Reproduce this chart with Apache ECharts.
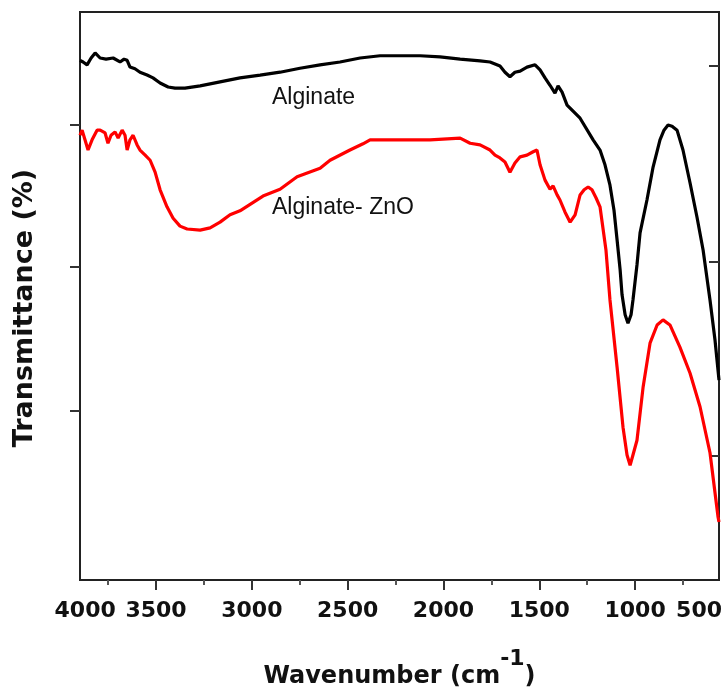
<!DOCTYPE html>
<html>
<head>
<meta charset="utf-8">
<script src="https://cdn.jsdelivr.net/npm/echarts@6/dist/echarts.min.js"></script>
<style>
  html, body { margin: 0; padding: 0; background: #fff; }
  #chart { width: 725px; height: 692px; }
</style>
</head>
<body>
<div id="chart"></div>
<script>
// wavenumber (cm-1) and transmittance (arbitrary units, 0-100)
const alginate = [
  [3897, 91.5], [3881, 91.2], [3860, 90.7], [3839, 91.9], [3818, 92.8], [3792, 91.9],
  [3761, 91.7], [3724, 91.9], [3688, 91.2], [3667, 91.7], [3651, 91.5], [3636, 90.3],
  [3610, 90.0], [3584, 89.4], [3547, 88.9], [3516, 88.4], [3479, 87.5], [3437, 86.8],
  [3401, 86.6], [3349, 86.6], [3270, 87.0], [3166, 87.7], [3062, 88.4], [2957, 88.9],
  [2853, 89.4], [2749, 90.1], [2644, 90.7], [2540, 91.2], [2435, 91.9], [2331, 92.3],
  [2122, 92.3], [2018, 92.1], [1913, 91.7], [1809, 91.4], [1757, 91.2], [1705, 90.5],
  [1679, 89.4], [1653, 88.6], [1627, 89.4], [1600, 89.6], [1564, 90.3], [1522, 90.7],
  [1496, 89.8], [1470, 88.4], [1444, 87.1], [1418, 85.7], [1402, 87.0], [1381, 85.9],
  [1355, 83.6], [1287, 81.3], [1219, 77.5], [1183, 75.7], [1157, 73.1], [1131, 69.5],
  [1110, 65.1], [1094, 59.9], [1078, 54.6], [1068, 50.2], [1052, 46.7], [1037, 45.2],
  [1021, 46.7], [1011, 49.3], [990, 55.5], [974, 61.1], [938, 66.9], [906, 72.7],
  [870, 77.5], [849, 79.2], [828, 80.1], [807, 79.9], [781, 79.2], [750, 75.7],
  [713, 69.9], [677, 63.9], [645, 58.1], [609, 49.3], [583, 42.3], [562, 35.2]
];

const alginateZnO = [
  [3897, 78.3], [3886, 79.2], [3871, 77.5], [3855, 75.7], [3834, 77.5], [3808, 79.2],
  [3792, 79.2], [3766, 78.7], [3751, 76.9], [3735, 78.3], [3714, 78.9], [3698, 77.8],
  [3677, 79.2], [3662, 78.3], [3651, 75.7], [3636, 77.5], [3620, 78.3], [3599, 76.6],
  [3584, 75.7], [3557, 74.8], [3531, 73.9], [3505, 71.8], [3479, 68.7], [3443, 65.7],
  [3411, 63.7], [3375, 62.3], [3338, 61.8], [3270, 61.6], [3218, 62.0], [3166, 63.0],
  [3114, 64.3], [3062, 65.0], [2942, 67.6], [2853, 68.8], [2764, 71.0], [2644, 72.5],
  [2592, 73.9], [2488, 75.7], [2420, 76.8], [2383, 77.5], [2070, 77.5], [1913, 77.8],
  [1861, 76.9], [1809, 76.6], [1757, 75.7], [1731, 74.8], [1705, 74.3], [1679, 73.6],
  [1653, 71.8], [1627, 73.4], [1600, 74.5], [1564, 74.8], [1532, 75.4], [1512, 75.7],
  [1496, 73.1], [1470, 70.4], [1444, 68.8], [1428, 69.4], [1407, 67.8], [1392, 66.9],
  [1366, 64.8], [1339, 63.0], [1313, 64.3], [1287, 67.8], [1266, 68.7], [1245, 69.2],
  [1225, 68.7], [1204, 67.3], [1183, 65.7], [1152, 58.1], [1131, 49.3], [1094, 37.5],
  [1063, 26.9], [1042, 22.0], [1026, 20.2], [1011, 22.0], [990, 24.6], [958, 34.0],
  [922, 41.7], [885, 44.9], [854, 45.8], [818, 44.9], [766, 41.0], [713, 36.4],
  [661, 30.5], [609, 22.4], [567, 11.1], [562, 10.2]
];

// axis ticks and labels
const xMajorTicks = [3500, 3000, 2500, 2000, 1500, 1000];
const xMinorTicks = [3750, 3250, 2750, 2250, 1750, 1250, 750];
const xTickLabels = ['4000', '3500', '3000', '2500', '2000', '1500', '1000', '500'];
const xTickLabelAt = [3870, 3500, 3000, 2500, 2000, 1500, 1000, 666];
const yLeftTicks = [29.8, 55.1, 80.1];
const yRightTicks = [21.8, 56.1, 90.6];

// annotation anchors [wavenumber, transmittance]
const alginateNote = [2895, 84.9];
const znoNote = [2895, 65.6];

const boldFont = 'DejaVu Sans';
const chart = echarts.init(document.getElementById('chart'));

const noteLabel = {
  show: true,
  position: 'right',
  distance: 0,
  fontFamily: 'Liberation Sans',
  fontSize: 23,
  color: '#111'
};

chart.setOption({
  animation: false,
  grid: {
    left: 80, right: 6, top: 12, bottom: 112,
    outerBoundsMode: 'none',
    show: true, borderColor: '#222', borderWidth: 2
  },
  xAxis: [
    {
      type: 'value', inverse: true, min: 562, max: 3897,
      position: 'bottom',
      axisLine: { lineStyle: { color: '#222', width: 2 } },
      axisTick: { customValues: xMajorTicks, length: 10, lineStyle: { color: '#333', width: 2 } },
      axisLabel: {
        customValues: xTickLabelAt,
        formatter: v => xTickLabels[xTickLabelAt.indexOf(v)],
        margin: 20,
        fontFamily: boldFont, fontWeight: 'bold', fontSize: 22, color: '#111'
      },
      splitLine: { show: false },
      name: '{m|Wavenumber (cm}{s|-1}{m|)}',
      nameLocation: 'middle',
      nameGap: 68,
      nameTextStyle: {
        rich: {
          m: { fontFamily: boldFont, fontWeight: 'bold', fontSize: 24, color: '#111', lineHeight: 58 },
          s: { fontFamily: boldFont, fontWeight: 'bold', fontSize: 22, color: '#111', lineHeight: 22, verticalAlign: 'top' }
        }
      }
    },
    {
      type: 'value', inverse: true, min: 562, max: 3897,
      position: 'bottom',
      axisLine: { show: false },
      axisTick: { customValues: xMinorTicks, length: 5, lineStyle: { color: '#555', width: 2 } },
      axisLabel: { show: false },
      splitLine: { show: false }
    }
  ],
  yAxis: [
    {
      type: 'value', min: 0, max: 100, position: 'left',
      axisLine: { show: true, lineStyle: { color: '#222', width: 2 } },
      axisTick: { show: true, customValues: yLeftTicks, length: 10, lineStyle: { color: '#333', width: 2 } },
      axisLabel: { show: false },
      splitLine: { show: false },
      name: 'Transmittance (%)',
      nameLocation: 'middle',
      nameGap: 42,
      nameTextStyle: {
        fontFamily: boldFont, fontWeight: 'bold', fontSize: 27, color: '#111',
        padding: [0, 24, 0, 0]
      }
    },
    {
      type: 'value', min: 0, max: 100, position: 'right',
      axisLine: { show: true, lineStyle: { color: '#222', width: 2 } },
      axisTick: { show: true, inside: true, customValues: yRightTicks, length: 10, lineStyle: { color: '#333', width: 2 } },
      axisLabel: { show: false },
      splitLine: { show: false }
    }
  ],
  series: [
    {
      name: 'Alginate',
      type: 'line',
      data: alginate,
      showSymbol: false,
      lineStyle: { color: '#000', width: 3.2 },
      markPoint: {
        symbol: 'circle', symbolSize: 0,
        itemStyle: { color: 'transparent' },
        label: Object.assign({ formatter: 'Alginate' }, noteLabel),
        data: [{ coord: alginateNote }]
      }
    },
    {
      name: 'Alginate- ZnO',
      type: 'line',
      data: alginateZnO,
      showSymbol: false,
      lineStyle: { color: '#ff0000', width: 3.2 },
      markPoint: {
        symbol: 'circle', symbolSize: 0,
        itemStyle: { color: 'transparent' },
        label: Object.assign({ formatter: 'Alginate- ZnO' }, noteLabel),
        data: [{ coord: znoNote }]
      }
    }
  ]
});
</script>
</body>
</html>
